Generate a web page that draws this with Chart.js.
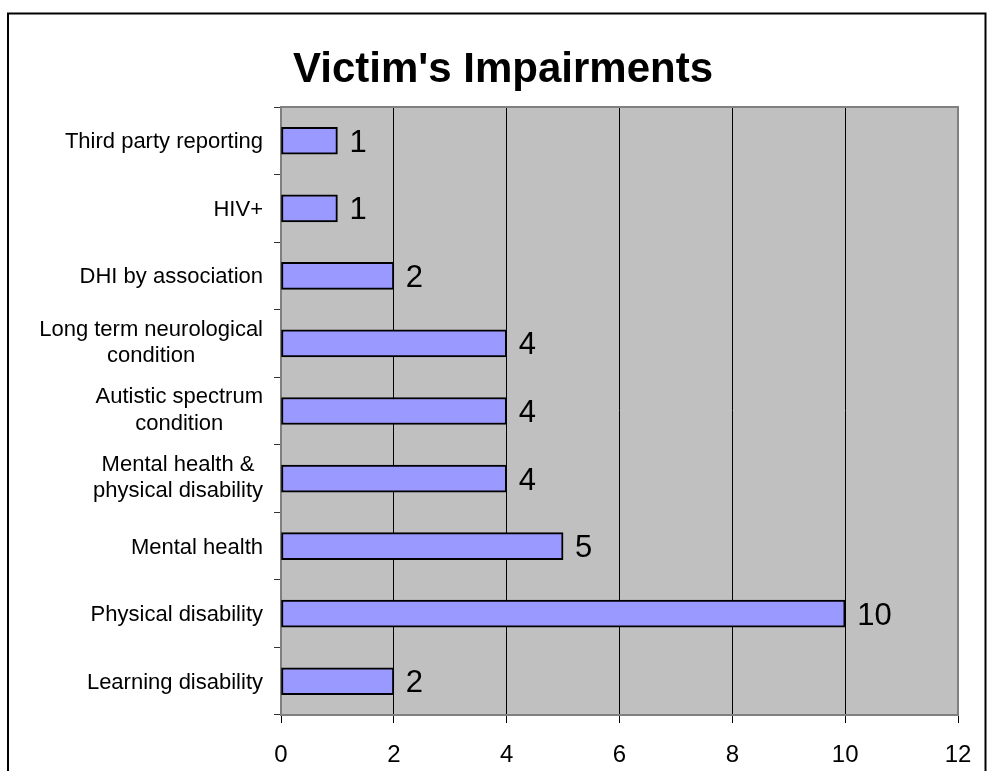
<!DOCTYPE html>
<html>
<head>
<meta charset="utf-8">
<title>Victim's Impairments</title>
<script src="https://cdn.jsdelivr.net/npm/chart.js@4/dist/chart.umd.min.js"></script>
<style>
  html, body { margin:0; padding:0; background:#fff; }
  #wrap { width:987px; height:771px; position:relative; overflow:hidden; }
</style>
</head>
<body>
<div id="wrap"><canvas id="c" width="987" height="771"></canvas></div>
<script>
// data - top to bottom as in the picture
const chartTitle = "Victim's Impairments";
const categories = [
  ['Third party reporting'],
  ['HIV+'],
  ['DHI by association'],
  ['Long term neurological', 'condition'],
  ['Autistic spectrum', 'condition'],
  ['Mental health &', 'physical disability'],
  ['Mental health'],
  ['Physical disability'],
  ['Learning disability']
];
const counts = [1, 1, 2, 4, 4, 4, 5, 10, 2];
const xTicks = [0, 2, 4, 6, 8, 10, 12];

const FONT = 'Arial, "Liberation Sans", sans-serif';

// fondo gris del área de trazado + marco exterior
const plotBg = {
  id: 'plotBg',
  beforeDraw(chart){
    const {ctx, chartArea:a} = chart;
    ctx.save();
    ctx.fillStyle = '#fff';
    ctx.fillRect(0, 0, chart.width, chart.height);
    ctx.fillStyle = '#C0C0C0';
    ctx.fillRect(a.left, a.top, a.right - a.left, a.bottom - a.top);
    ctx.strokeStyle = '#000';
    ctx.lineWidth = 2;
    ctx.strokeRect(8, 13.5, 977.5, 820);
    ctx.restore();
  },
  beforeDatasetsDraw(chart){
    const {ctx, chartArea:a} = chart;
    ctx.save();
    ctx.strokeStyle = '#808080';
    ctx.lineWidth = 2;
    ctx.strokeRect(a.left, a.top, a.right - a.left, a.bottom - a.top);
    ctx.restore();
  }
};

// título y etiquetas de categoría (bloque alineado a la derecha, líneas centradas)
const textLayer = {
  id: 'textLayer',
  afterDraw(chart){
    const {ctx} = chart;
    const yScale = chart.scales.y;
    ctx.save();
    ctx.fillStyle = '#000';
    ctx.font = 'bold 42px ' + FONT;
    ctx.textAlign = 'center';
    ctx.textBaseline = 'alphabetic';
    ctx.fillText(chartTitle, 503, 82);

    ctx.font = '22px ' + FONT;
    const right = 263, lh = 26.5;
    categories.forEach((lines, i) => {
      const yc = yScale.getPixelForValue(i);
      const w = Math.max(...lines.map(l => ctx.measureText(l).width));
      const cx = right - w / 2;
      lines.forEach((l, j) => {
        const ly = yc + (j - (lines.length - 1) / 2) * lh - (lines.length > 1 ? 2 : 0);
        ctx.fillText(l, cx, ly + 7.5);
      });
    });
    ctx.restore();
  },
  afterDatasetsDraw(chart){
    const {ctx} = chart;
    const meta = chart.getDatasetMeta(0);
    ctx.save();
    ctx.fillStyle = '#000';
    ctx.font = '31px ' + FONT;
    ctx.textAlign = 'left';
    ctx.textBaseline = 'alphabetic';
    meta.data.forEach((bar, i) => {
      ctx.fillText(String(counts[i]), bar.x + 12, bar.y + 11);
    });
    ctx.restore();
  }
};

new Chart(document.getElementById('c').getContext('2d'), {
  type: 'bar',
  data: {
    labels: categories,
    datasets: [{
      data: counts,
      backgroundColor: '#9999FF',
      borderColor: '#000',
      borderWidth: 2,
      borderSkipped: false,
      barThickness: 27,
      categoryPercentage: 1
    }]
  },
  options: {
    indexAxis: 'y',
    responsive: false,
    devicePixelRatio: 1,
    animation: false,
    layout: { padding: { left: 0, top: 107, right: 29, bottom: 0 } },
    plugins: { legend: { display: false }, tooltip: { enabled: false }, title: { display: false } },
    scales: {
      x: {
        min: 0, max: 12,
        afterBuildTicks(scale){ scale.ticks = xTicks.map(v => ({ value: v })); },
        afterFit(scale){ scale.height = 56; scale.paddingLeft = 0; scale.paddingRight = 0; },
        ticks: { color: '#000', font: { family: FONT, size: 24 }, padding: 18 },
        grid: { color: '#000', lineWidth: 1, tickLength: 8, drawTicks: true },
        border: { color: '#808080', width: 2 }
      },
      y: {
        afterFit(scale){ scale.width = 281; },
        ticks: { display: false },
        grid: { drawOnChartArea: false, drawTicks: true, tickLength: 7, color: '#333', offset: true },
        border: { color: '#808080', width: 2 }
      }
    }
  },
  plugins: [plotBg, textLayer]
});
</script>
</body>
</html>
